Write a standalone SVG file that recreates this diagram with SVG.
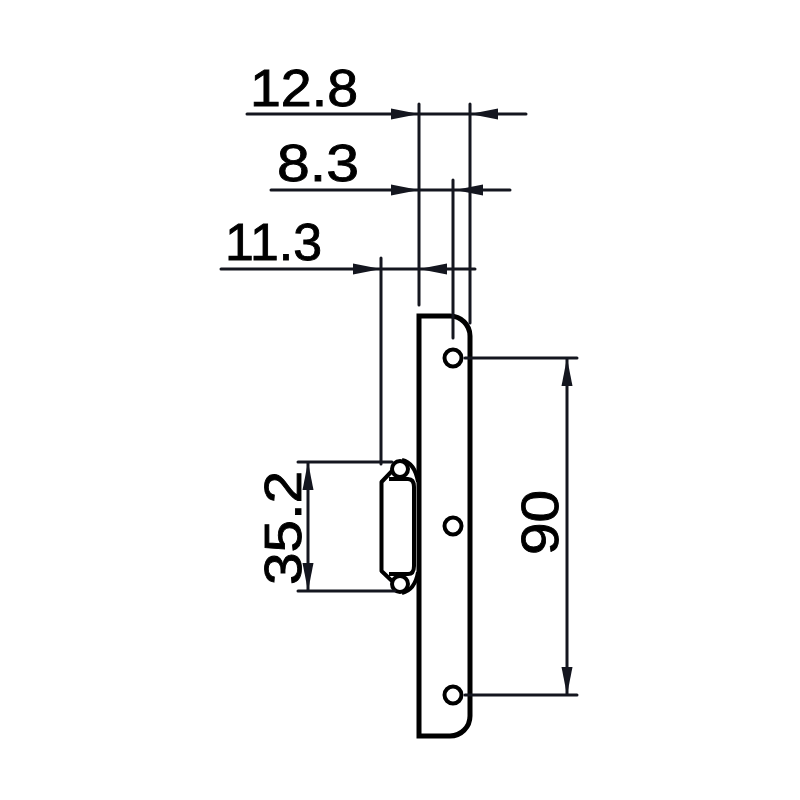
<svg xmlns="http://www.w3.org/2000/svg" width="800" height="800" viewBox="0 0 800 800">
<defs>
<style>
.dim{stroke:#14161f;stroke-width:3;fill:none;stroke-linecap:round}
.ar{fill:#14161f;stroke:none}
.out{stroke:#000;stroke-width:5;fill:none;stroke-linejoin:miter}
.thin{stroke:#000;stroke-width:4;fill:none;stroke-linejoin:round}
text{font-family:"Liberation Sans",Arial,sans-serif;font-size:52px;fill:#000;stroke:#000;stroke-width:.9px}
</style>
<polygon id="a" class="ar" points="0,0 -28,-5.5 -28,5.5"/>
</defs>
<rect width="800" height="800" fill="#fff"/>
<g id="plate">
<path class="out" d="M419 316H450A20 20 0 0 1 470 336V716A20 20 0 0 1 450 736H419Z"/>
<circle class="thin" cx="453" cy="358" r="8.5"/>
<circle class="thin" cx="453" cy="526" r="8.5"/>
<circle class="thin" cx="453" cy="695" r="8.5"/>
</g>
<g id="latch">
<path class="thin" d="M392 471L381.500 482V571L392 581M389 479H408Q414 479 414 487V566Q414 574 408 574H389"/>
<path class="thin" d="M402 460Q415 463 418 482M402 593Q415 590 418 572"/>
<circle class="thin" cx="400" cy="469" r="8"/>
<circle class="thin" cx="400" cy="584" r="8"/>
</g>
<g id="connectors">
<path class="dim" d="M247 114H526M419 104V305M470 104V323M271 190H510M453 180V338M221 269H475M381 258V464M465 358H577M465 695H577M567 358V695M298 462H392M298 591H395M308 462V591"/>
<use href="#a" x="419" y="114"/>
<use href="#a" transform="translate(470 114) rotate(180)"/>
<use href="#a" x="419" y="190"/>
<use href="#a" transform="translate(455 190) rotate(180)"/>
<use href="#a" x="381" y="269"/>
<use href="#a" transform="translate(419 269) rotate(180)"/>
<use href="#a" transform="translate(567 358) rotate(-90)"/>
<use href="#a" transform="translate(567 695) rotate(90)"/>
<use href="#a" transform="translate(308 462) rotate(-90)"/>
<use href="#a" transform="translate(308 591) rotate(90)"/>
</g>
<g id="labels">
<text x="250" y="106" textLength="108" lengthAdjust="spacingAndGlyphs">12.8</text>
<text x="277" y="181" textLength="82" lengthAdjust="spacingAndGlyphs">8.3</text>
<text x="225" y="260" textLength="97" lengthAdjust="spacingAndGlyphs">11.3</text>
<text transform="translate(301 585) rotate(-90)" textLength="114" lengthAdjust="spacingAndGlyphs">35.2</text>
<text transform="translate(558 555) rotate(-90)" textLength="65" lengthAdjust="spacingAndGlyphs">90</text>
</g>
</svg>
